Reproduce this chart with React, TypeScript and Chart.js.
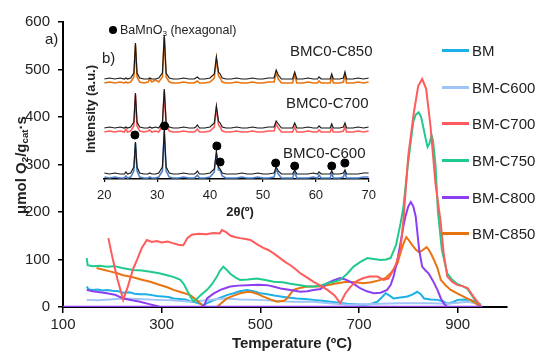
import React, { useEffect, useRef } from "react";
import { Chart, registerables } from "chart.js";

Chart.register(...registerables);

const FONT = "'Liberation Sans', Arial, sans-serif";

// ---------- main chart data (Temperature ºC vs µmol O2/gcat·s) ----------
const xTicks = [100, 300, 500, 700, 900];
const yTicks = [0, 100, 200, 300, 400, 500, 600];

const seriesNames = ["BM", "BM-C600", "BM-C700", "BM-C750", "BM-C800", "BM-C850"];
const seriesColors = ["#1BB1E7", "#A0C4F8", "#FF5B5B", "#1FCB8C", "#8B3FF0", "#E9740F"];

const bmT = [148,152,160,170,180,190,200,212,222,235,245,256,268,280,290,302,314,324,336,348,358,368,378,385,392,400,410,420,432,446,458,473,486,500,515,528,541,555,574,590,608,625,642,660,676,692,709,722,737,746,754,762,770,784,798,808,818,825,832,845,859,870,879,890,900,915,927,938,947];
const bmV = [43,37,36,37,35,36,34,33,30,31,28,27,27,25,23,22,21,18,17,16,12,10,7,4,8,12,16,20,25,29,33,36,33,29,27,24,22,20,18,17,15,13,11,9,7,6,5,6,11,20,29,24,18,20,22,26,32,27,18,16,15,12,7,10,15,16,15,10,5];

const c600T = [148,170,195,222,250,290,320,358,390,425,460,493,530,561,608,640,676,710,744,780,811,845,879,900,920,935,947];
const c600V = [15,14,16,18,17,15,14,11,14,18,16,15,13,11,11,8,5,6,7,8,8,8,7,9,11,8,2];

const c700T = [192,200,210,222,232,242,250,260,270,280,290,300,312,324,334,344,352,361,375,390,405,418,422,430,440,450,459,470,480,492,505,516,527,540,550,561,571,581,595,608,622,636,650,662,672,683,696,709,722,737,750,760,768,775,784,790,800,811,820,828,836,845,855,865,872,879,890,900,910,920,932,947];
const c700V = [145,105,60,15,45,80,99,125,141,137,139,136,138,134,131,130,145,152,154,153,156,155,162,158,150,147,145,143,141,133,125,120,113,103,95,88,80,71,62,53,45,36,25,8,28,43,55,61,64,64,57,60,75,90,120,183,320,408,465,480,460,380,260,183,110,64,52,46,44,40,22,2];

const c750T = [148,150,160,175,189,205,220,242,260,277,295,311,325,338,345,351,358,365,372,379,392,402,412,418,425,432,439,450,459,475,493,510,527,545,561,581,595,608,622,636,650,662,676,689,703,717,730,744,755,764,775,784,790,798,810,815,821,826,830,835,839,843,847,850,855,860,868,879,890,900,910,920,935,947];
const c750V = [103,88,86,87,85,86,82,78,77,74,71,67,63,57,48,36,22,11,18,25,36,48,64,76,85,78,70,62,57,58,60,57,53,52,49,46,43,43,45,50,53,57,70,85,95,103,101,99,100,103,130,175,210,290,390,405,410,400,380,355,337,345,362,350,300,200,120,70,56,48,44,38,15,2];

const c800T = [148,160,175,189,205,222,240,256,275,290,297,340,380,386,392,405,419,430,439,455,473,495,514,530,541,561,581,595,608,622,635,648,662,672,683,693,703,716,730,744,757,764,770,777,784,790,794,800,805,810,815,822,828,834,841,850,859,866,872,879,948];
const c800V = [36,33,31,29,26,18,14,11,6,2,0,0,0,3,18,28,36,40,43,45,46,47,46,42,39,36,32,33,36,38,50,56,61,58,53,46,39,33,29,30,36,46,64,95,134,170,190,212,221,212,190,120,85,78,71,55,36,18,7,0,0];

const c850T = [168,180,195,210,222,240,258,277,295,310,324,340,358,370,378,385,400,412,422,432,446,459,470,480,493,506,520,534,548,554,560,567,580,595,610,622,640,656,676,692,709,725,744,755,764,771,778,783,788,792,796,800,804,808,815,821,827,832,837,842,847,852,859,866,876,886,900,912,925,932,947];
const c850V = [82,79,75,71,67,63,58,53,47,42,36,31,25,15,8,0,0,0,9,18,24,29,31,32,28,22,16,11,13,18,26,36,40,43,43,43,47,50,53,52,50,52,57,62,71,80,92,110,127,138,147,142,136,130,121,116,118,122,126,120,110,99,82,57,45,36,28,22,15,11,0];

const zeroT = [100, 950];
const zeroV = [0, 0];

// ---------- inset XRD data (2θ vs intensity, a.u.) ----------
const xrdTicks = [20, 30, 40, 50, 60, 70];
const theta = [20,21,22,23,23.8,24.1,24.4,25,25.6,25.9,26.2,26.7,27.5,28.3,28.6,29,29.7,30.3,31.0,31.35,31.7,32.3,33,34,35,36,37,37.3,37.6,38,39,40,40.8,41.2,41.6,41.9,42.3,43,44,45,46,47,48,49,50,51,52.1,52.5,52.9,53.5,54.5,55.6,56.0,56.4,57.5,58.5,59.5,60.3,60.6,61,62,62.7,63.0,63.3,64.5,65.2,65.5,65.8,67,68,69,70];
const c600Black = [6,5,6,5,5,7,5,6,12,37,12,6,5,5,6,5,5,6,12,49,12,6,5,5,6,5,5,6,8,5,5,6,10,27,12,10,6,5,5,5,6,5,5,6,5,5,6,12,8,5,5,5,9,5,5,5,6,5,7,5,5,5,8,5,5,6,9,5,5,5,6,6];
const c600Blue = [2,1,2,1,1,3,1,2,8,36,8,2,1,1,2,1,1,2,8,48,8,2,1,1,2,1,1,2,4,1,1,2,7,26,9,9,3,1,1,1,2,1,1,2,1,1,2,10,5,1,1,1,7,1,1,1,2,1,4,1,1,1,6,1,1,2,7,1,1,1,2,2];
const c700Black = [51,52,51,52,51,52,51,52,57,86,57,52,51,51,52,51,52,51,57,90,57,52,51,51,52,51,51,52,54,51,51,52,56,73,58,56,52,51,51,52,51,51,52,51,51,52,52,58,55,51,51,51,56,51,51,52,51,51,53,51,51,51,55,51,51,52,56,51,51,52,51,52];
const c700Red = [47,48,47,48,47,50,47,48,53,84,53,48,47,48,49,47,48,47,53,88,53,48,47,47,48,47,47,48,50,47,47,48,52,71,54,52,48,47,47,48,47,47,48,47,47,48,48,55,51,47,47,47,52,47,47,48,47,47,49,47,47,47,51,47,47,48,52,47,47,48,47,48];
const c850Black = [100,101,100,101,100,101,100,101,106,136,106,101,100,100,101,100,100,101,106,144,106,101,100,100,101,100,100,101,102,100,100,101,105,122,107,105,101,100,100,101,100,100,101,100,100,101,101,109,104,100,100,100,107,100,100,101,100,100,102,100,100,100,105,100,100,101,107,100,100,101,100,101];
const c850Orange = [96,97,96,97,96,97,96,97,102,134,102,97,96,97,100,97,99,97,102,142,102,97,96,96,97,96,96,97,98,96,96,97,101,120,103,101,97,96,96,97,96,96,97,96,96,97,97,106,100,96,96,96,104,96,96,97,96,96,98,96,96,96,102,96,96,97,104,96,96,97,96,97];
const dotTheta = [25.8, 31.4, 41.3, 41.9, 52.4, 56.0, 63.0, 65.5];
const dotValue = [44, 53, 33, 17, 16, 13, 13, 16];

const toPts = (xs: number[], ys: number[]) => xs.map((x, i) => ({ x, y: ys[i] }));

function MainChart() {
  const ref = useRef<HTMLCanvasElement | null>(null);
  useEffect(() => {
    if (!ref.current) return;
    const seriesT = [bmT, c600T, c700T, c750T, c800T, c850T];
    const seriesV = [bmV, c600V, c700V, c750V, c800V, c850V];
    const datasets: any[] = seriesNames.map((name, i) => ({
      label: name,
      data: toPts(seriesT[i], seriesV[i]),
      borderColor: seriesColors[i],
      backgroundColor: seriesColors[i],
      borderWidth: 2,
      pointRadius: 0,
      fill: false,
      order: [6, 5, 1, 2, 3, 4][i],
    }));
    datasets.push({
      label: "zero",
      data: toPts(zeroT, zeroV),
      borderColor: seriesColors[4],
      borderWidth: 2.5,
      pointRadius: 0,
      order: 0,
    });
    const chart = new Chart(ref.current, {
      type: "line",
      data: { datasets },
      options: {
        animation: false,
        responsive: false,
        layout: { padding: { left: 0, right: 43, top: 22, bottom: 0 } },
        plugins: { legend: { display: false }, tooltip: { enabled: false } },
        scales: {
          x: {
            type: "linear",
            min: 100,
            max: 1000,
            afterBuildTicks: (s: any) => { s.ticks = xTicks.map((v) => ({ value: v })); },
            afterFit: (s: any) => { s.height = 53; },
            grid: { drawOnChartArea: false, tickLength: 6, color: "#000", lineWidth: 1.5 },
            border: { color: "#000", width: 2 },
            ticks: { font: { family: FONT, size: 15 }, color: "#222", padding: 3, maxRotation: 0 },
          },
          y: {
            type: "linear",
            min: 0,
            max: 600,
            afterBuildTicks: (s: any) => { s.ticks = yTicks.map((v) => ({ value: v })); },
            afterFit: (s: any) => { s.width = 63; },
            grid: { drawOnChartArea: false, tickLength: 5, color: "#000", lineWidth: 1.5 },
            border: { color: "#000", width: 2 },
            ticks: { font: { family: FONT, size: 15 }, color: "#222", padding: 8 },
          },
        },
      },
    });
    return () => chart.destroy();
  }, []);
  return <canvas ref={ref} width={550} height={360} style={{ position: "absolute", left: 0, top: 0 }} />;
}

function InsetChart() {
  const ref = useRef<HTMLCanvasElement | null>(null);
  useEffect(() => {
    if (!ref.current) return;
    const mk = (vals: number[], color: string, w: number, order: number) => ({
      data: toPts(theta, vals),
      borderColor: color,
      borderWidth: w,
      pointRadius: 0,
      order,
    });
    const chart = new Chart(ref.current, {
      type: "line",
      data: {
        datasets: [
          mk(c600Blue, "#4F82C8", 1.6, 6),
          mk(c600Black, "#1a1a1a", 1.2, 3),
          mk(c700Red, "#FF5B5B", 1.6, 5),
          mk(c700Black, "#1a1a1a", 1.2, 2),
          mk(c850Orange, "#E9740F", 1.6, 4),
          mk(c850Black, "#1a1a1a", 1.2, 1),
          {
            data: toPts(dotTheta, dotValue),
            showLine: false,
            pointRadius: 4,
            pointBackgroundColor: "#000",
            pointBorderColor: "#000",
            order: 0,
          } as any,
        ],
      },
      options: {
        animation: false,
        responsive: false,
        layout: { padding: { left: 12, right: 12, top: 19, bottom: 0 } },
        plugins: { legend: { display: false }, tooltip: { enabled: false } },
        scales: {
          x: {
            type: "linear",
            min: 20,
            max: 70,
            afterBuildTicks: (s: any) => { s.ticks = xrdTicks.map((v) => ({ value: v })); },
            afterFit: (s: any) => { s.height = 30; },
            grid: { drawOnChartArea: false, tickLength: 3, color: "#000", lineWidth: 1.2 },
            border: { color: "#000", width: 1.5 },
            ticks: { font: { family: FONT, size: 13 }, color: "#222", padding: 6, maxRotation: 0 },
          },
          y: { display: false, min: 0, max: 160 },
        },
      },
    });
    return () => chart.destroy();
  }, []);
  return <canvas ref={ref} width={291} height={209} style={{ position: "absolute", left: 91, top: 0 }} />;
}

function Txt(props: { x: number; y: number; size: number; bold?: boolean; center?: boolean; rotate?: boolean; children: any }) {
  const { x, y, size, bold, center, rotate, children } = props;
  let transform = center ? "translate(-50%, -50%)" : "translate(0, -50%)";
  if (rotate) transform = "translate(-50%, -50%) rotate(-90deg)";
  return (
    <div
      style={{
        position: "absolute",
        left: x,
        top: y,
        transform,
        fontSize: size,
        fontWeight: bold ? "bold" : "normal",
        fontFamily: FONT,
        color: "#222",
        whiteSpace: "nowrap",
        lineHeight: 1,
      }}
    >
      {children}
    </div>
  );
}

const subStyle = { fontSize: "0.65em", verticalAlign: "-0.3em", lineHeight: 0 } as const;

export default function App() {
  const legendY = [50, 87, 123, 160, 197, 233];
  return (
    <div style={{ position: "fixed", left: 0, top: 0, width: 550, height: 360, background: "#fff", overflow: "hidden" }}>
      <MainChart />
      <InsetChart />
      <Txt x={20} y={165} size={15} bold rotate>
        μmol O<span style={subStyle}>2</span>/g<span style={subStyle}>cat</span>·s
      </Txt>
      <Txt x={292} y={342} size={15} bold center>Temperature (ºC)</Txt>
      <Txt x={90} y={109} size={13} bold rotate>Intensity (a.u.)</Txt>
      <Txt x={240} y={211} size={13} bold center>2θ(º)</Txt>
      <Txt x={45} y={38} size={15}>a)</Txt>
      <Txt x={102} y={57} size={15}>b)</Txt>
      <div style={{ position: "absolute", left: 109, top: 26, width: 8, height: 8, borderRadius: 4, background: "#000" }} />
      <Txt x={120} y={30} size={12.5}>
        BaMnO<span style={subStyle}>3</span> (hexagonal)
      </Txt>
      <Txt x={290} y={50} size={15}>BMC0-C850</Txt>
      <Txt x={286} y={102} size={15}>BMC0-C700</Txt>
      <Txt x={283} y={152} size={15}>BMC0-C600</Txt>
      {seriesNames.map((n, i) => (
        <React.Fragment key={n}>
          <div style={{ position: "absolute", left: 442, top: legendY[i] - 1.5, width: 27, height: 3, background: seriesColors[i] }} />
          <Txt x={472} y={legendY[i]} size={15}>{n}</Txt>
        </React.Fragment>
      ))}
    </div>
  );
}
